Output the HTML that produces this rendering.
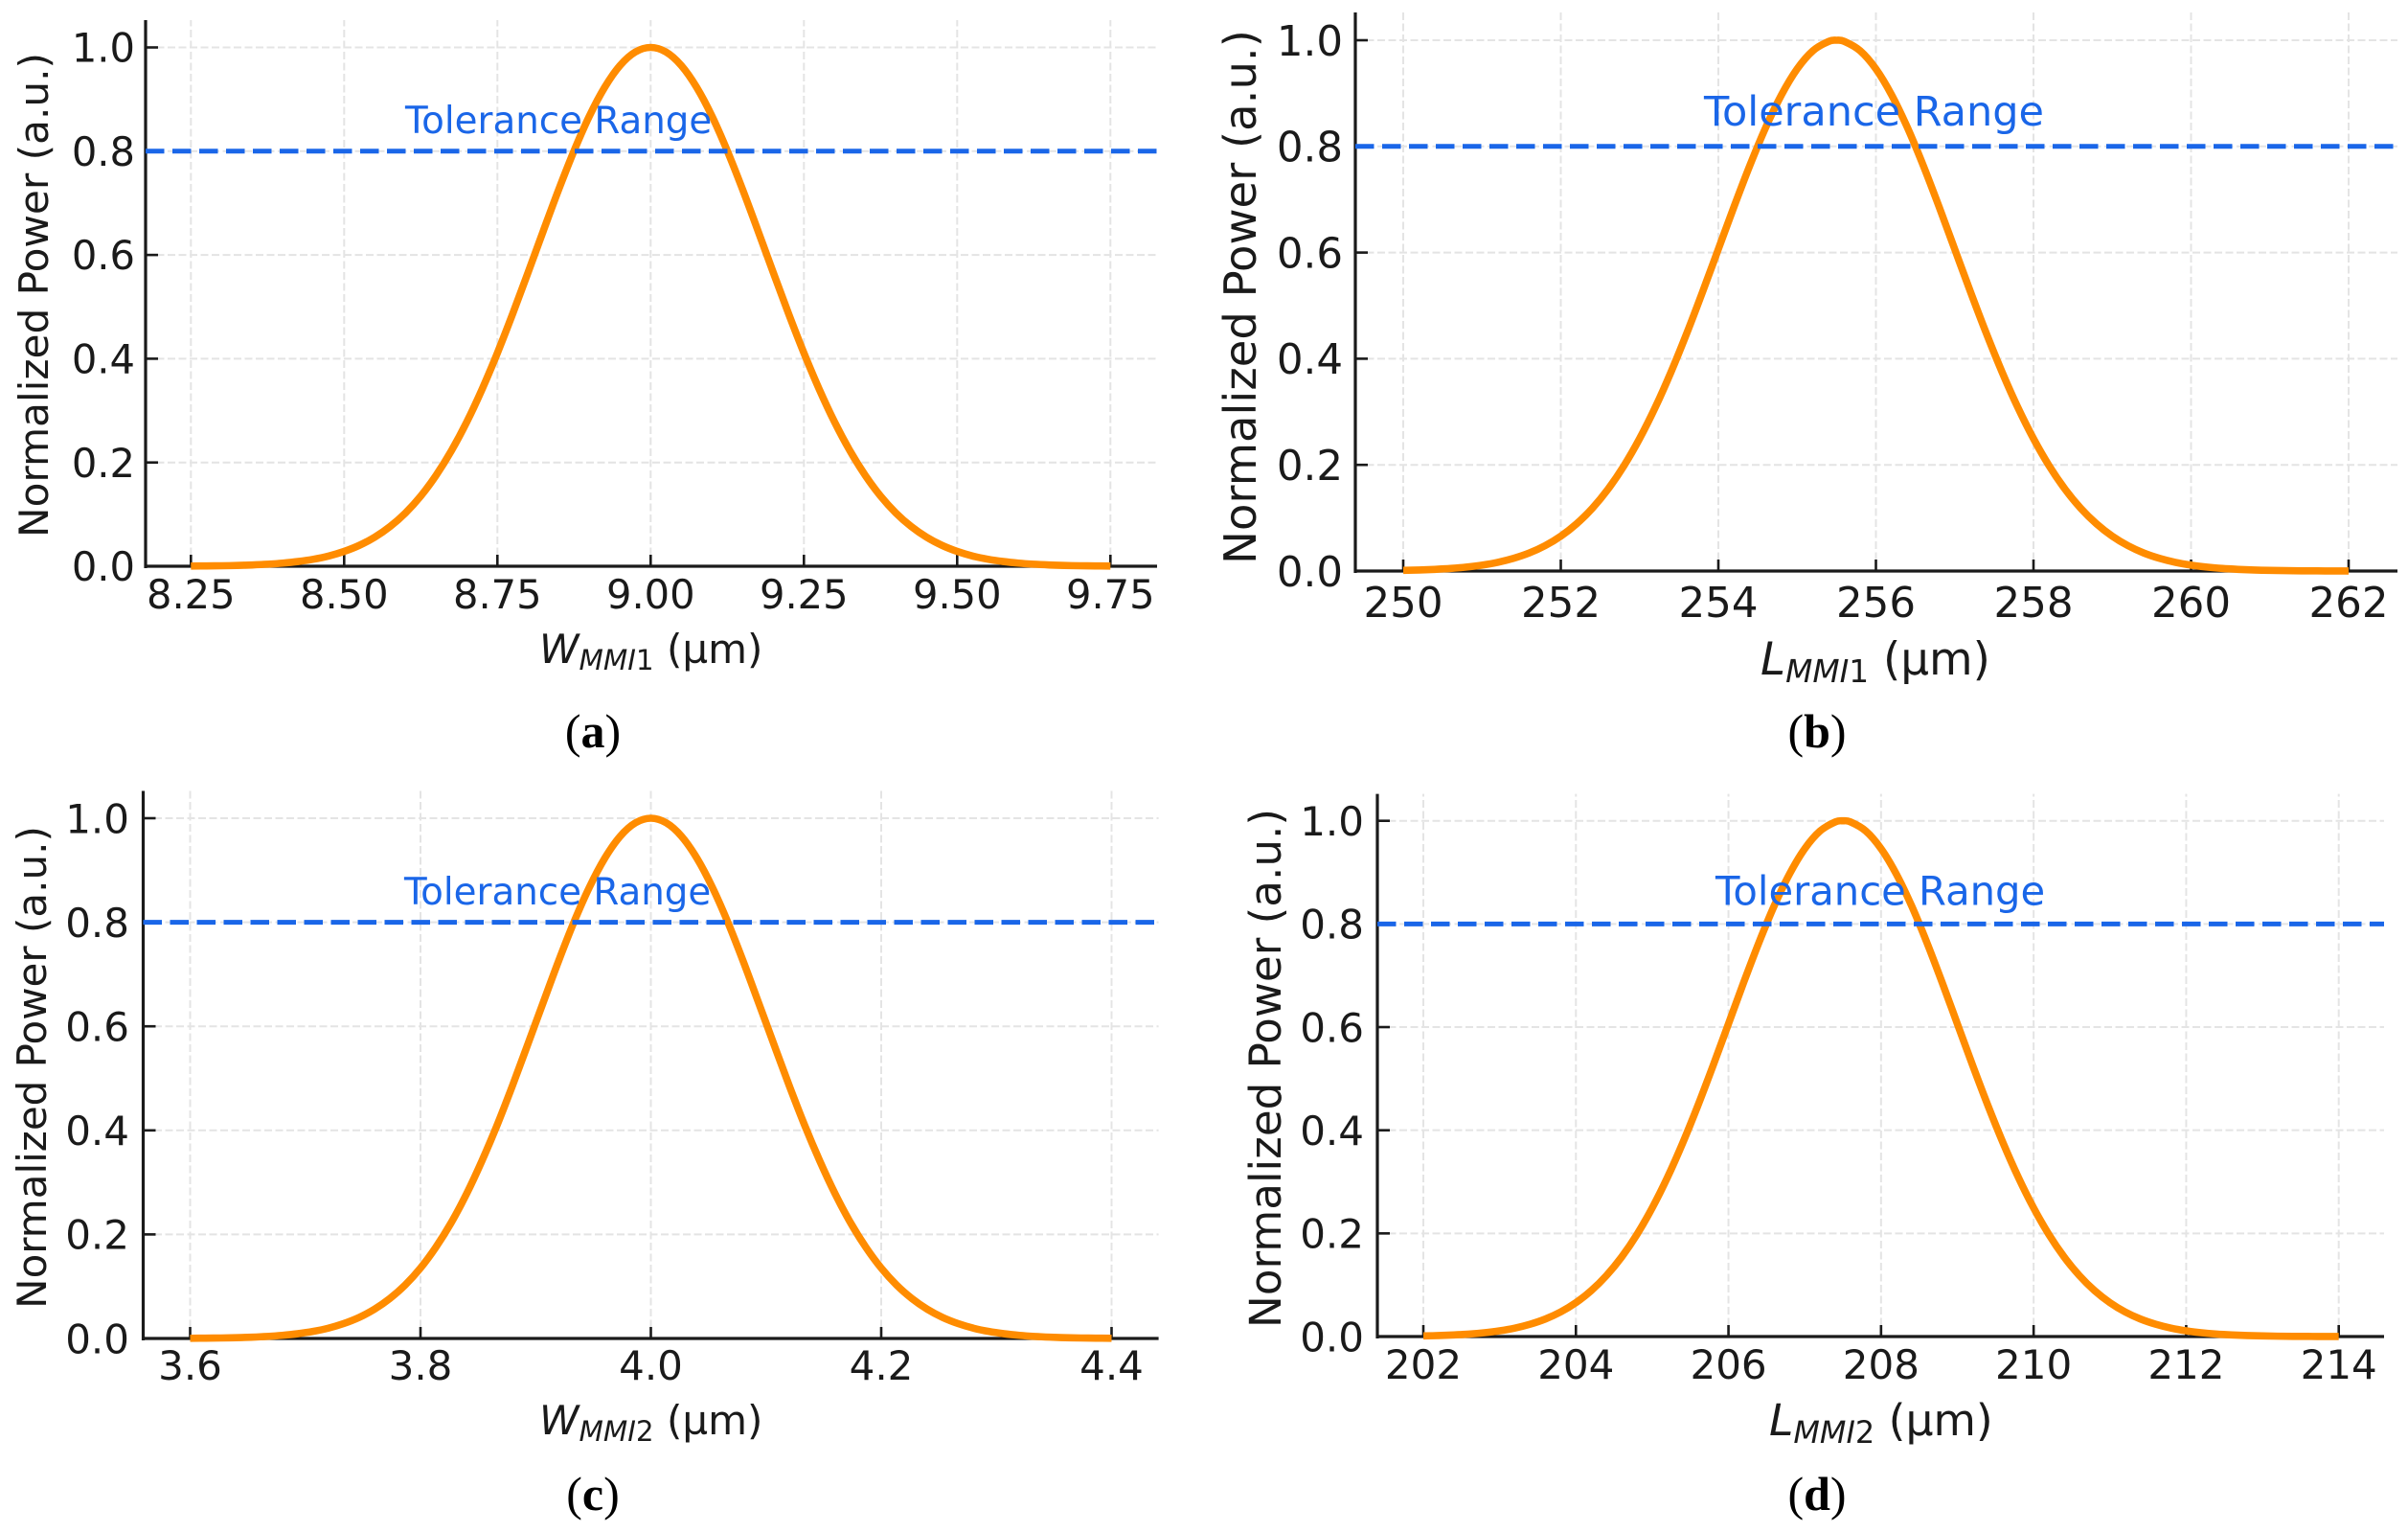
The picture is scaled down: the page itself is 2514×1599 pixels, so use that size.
<!DOCTYPE html>
<html lang="en">
<head>
<meta charset="utf-8">
<title>Normalized Power Tolerance Curves</title>
<style>
html,body{margin:0;padding:0;background:#fff;width:2514px;height:1599px;overflow:hidden}
svg{display:block}
text{font-family:"DejaVu Sans","Liberation Sans",sans-serif;fill:#1a1a1a}
.cap{font-family:"Liberation Serif",serif;fill:#000}
</style>
</head>
<body>
<svg id="figure" xmlns="http://www.w3.org/2000/svg" width="2514" height="1599" viewBox="0 0 2514 1599">
<rect x="0" y="0" width="2514" height="1599" fill="#ffffff"/>
</svg>
<script>
// ---- chart data ----
const yTickLabels = ['0.0','0.2','0.4','0.6','0.8','1.0'];
const toleranceLevel = 0.8;

const xTicksA = ['8.25','8.50','8.75','9.00','9.25','9.50','9.75'];
const xValuesA = [8.25,8.275,8.3,8.325,8.35,8.375,8.4,8.425,8.45,8.475,8.5,8.525,8.55,8.575,8.6,8.625,8.65,8.675,8.7,8.725,8.75,8.775,8.8,8.825,8.85,8.875,8.9,8.925,8.95,8.975,9,9.025,9.05,9.075,9.1,9.125,9.15,9.175,9.2,9.225,9.25,9.275,9.3,9.325,9.35,9.375,9.4,9.425,9.45,9.475,9.5,9.525,9.55,9.575,9.6,9.625,9.65,9.675,9.7,9.725,9.75];
const powerA = [.0003,.0006,.0009,.0015,.0025,.0039,.0060,.0091,.0135,.0198,.0286,.0404,.0561,.0766,.1027,.1353,.1752,.2227,.2780,.3411,.4111,.4868,.5662,.6468,.7261,.8007,.8676,.9231,.9651,.9912,1,.9912,.9651,.9231,.8676,.8007,.7261,.6468,.5662,.4868,.4111,.3411,.2780,.2227,.1752,.1353,.1027,.0766,.0561,.0404,.0286,.0198,.0135,.0091,.0060,.0039,.0025,.0015,.0009,.0006,.0003];

const xTicksB = ['250','252','254','256','258','260','262'];
const xValuesB = [250,250.2,250.4,250.6,250.8,251,251.2,251.4,251.6,251.8,252,252.2,252.4,252.6,252.8,253,253.2,253.4,253.6,253.8,254,254.2,254.4,254.6,254.8,255,255.2,255.4,255.5,255.6,255.8,256,256.2,256.4,256.6,256.8,257,257.2,257.4,257.6,257.8,258,258.2,258.4,258.6,258.8,259,259.2,259.4,259.6,259.8,260,260.2,260.4,260.6,260.8,261,261.2,261.4,261.6,261.8,262];
const powerB = [.0012,.0019,.0031,.0048,.0074,.0111,.0164,.0239,.0340,.0477,.0657,.0889,.1182,.1543,.1979,.2494,.3086,.3753,.4483,.5261,.6065,.6869,.7642,.8353,.8968,.9460,.9802,.9978,1,.9978,.9802,.9460,.8968,.8353,.7642,.6869,.6065,.5261,.4483,.3753,.3086,.2494,.1979,.1543,.1182,.0889,.0657,.0477,.0340,.0239,.0164,.0111,.0074,.0048,.0031,.0019,.0012,.0007,.0004,.0003,.0001,.0001];

const xTicksC = ['3.6','3.8','4.0','4.2','4.4'];
const xValuesC = [3.6,3.6133,3.6267,3.64,3.6533,3.6667,3.68,3.6933,3.7067,3.72,3.7333,3.7467,3.76,3.7733,3.7867,3.8,3.8133,3.8267,3.84,3.8533,3.8667,3.88,3.8933,3.9067,3.92,3.9333,3.9467,3.96,3.9733,3.9867,4,4.0133,4.0267,4.04,4.0533,4.0667,4.08,4.0933,4.1067,4.12,4.1333,4.1467,4.16,4.1733,4.1867,4.2,4.2133,4.2267,4.24,4.2533,4.2667,4.28,4.2933,4.3067,4.32,4.3333,4.3467,4.36,4.3733,4.3867,4.4];
const powerC = [.0003,.0006,.0009,.0015,.0025,.0039,.0060,.0091,.0135,.0198,.0286,.0404,.0561,.0766,.1027,.1353,.1752,.2227,.2780,.3411,.4111,.4868,.5662,.6468,.7261,.8007,.8676,.9231,.9651,.9912,1,.9912,.9651,.9231,.8676,.8007,.7261,.6468,.5662,.4868,.4111,.3411,.2780,.2227,.1752,.1353,.1027,.0766,.0561,.0404,.0286,.0198,.0135,.0091,.0060,.0039,.0025,.0015,.0009,.0006,.0003];

const xTicksD = ['202','204','206','208','210','212','214'];
const xValuesD = [202,202.2,202.4,202.6,202.8,203,203.2,203.4,203.6,203.8,204,204.2,204.4,204.6,204.8,205,205.2,205.4,205.6,205.8,206,206.2,206.4,206.6,206.8,207,207.2,207.4,207.5,207.6,207.8,208,208.2,208.4,208.6,208.8,209,209.2,209.4,209.6,209.8,210,210.2,210.4,210.6,210.8,211,211.2,211.4,211.6,211.8,212,212.2,212.4,212.6,212.8,213,213.2,213.4,213.6,213.8,214];
const powerD = [.0012,.0019,.0031,.0048,.0074,.0111,.0164,.0239,.0340,.0477,.0657,.0889,.1182,.1543,.1979,.2494,.3086,.3753,.4483,.5261,.6065,.6869,.7642,.8353,.8968,.9460,.9802,.9978,1,.9978,.9802,.9460,.8968,.8353,.7642,.6869,.6065,.5261,.4483,.3753,.3086,.2494,.1979,.1543,.1182,.0889,.0657,.0477,.0340,.0239,.0164,.0111,.0074,.0048,.0031,.0019,.0012,.0007,.0004,.0003,.0001,.0001];

// ---- rendering ----
const NS = 'http://www.w3.org/2000/svg';
const svg = document.getElementById('figure');
const BLUE = '#1a66e8', ORANGE = '#ff8c00', AXIS = '#1a1a1a', GRID = '#e4e4e4';

function make(parent, tag, attrs, txt) {
  const el = document.createElementNS(NS, tag);
  for (const k in attrs) el.setAttribute(k, attrs[k]);
  if (txt !== undefined) el.textContent = txt;
  parent.appendChild(el);
  return el;
}

// smooth path passing through every data point (Catmull-Rom to cubic Bezier)
function smoothPath(px, py) {
  let d = 'M' + px[0].toFixed(2) + ' ' + py[0].toFixed(2);
  for (let i = 0; i < px.length - 1; i++) {
    const a = Math.max(i - 1, 0), b = Math.min(i + 2, px.length - 1);
    const c1x = px[i] + (px[i + 1] - px[a]) / 6, c1y = py[i] + (py[i + 1] - py[a]) / 6;
    const c2x = px[i + 1] - (px[b] - px[i]) / 6, c2y = py[i + 1] - (py[b] - py[i]) / 6;
    d += 'C' + c1x.toFixed(2) + ' ' + c1y.toFixed(2) + ' ' + c2x.toFixed(2) + ' ' + c2y.toFixed(2) + ' ' + px[i + 1].toFixed(2) + ' ' + py[i + 1].toFixed(2);
  }
  return d;
}

function drawPanel(p) {
  const g = make(svg, 'g', {});
  
  

  const vLo = parseFloat(p.ticks[0]), vHi = parseFloat(p.ticks[p.ticks.length - 1]);
  const xScale = v => p.xLo + (v - vLo) * (p.xHi - p.xLo) / (vHi - vLo);
  const yScale = v => p.y0 + v * (p.y1 - p.y0);

  // grid
  p.ticks.forEach(t => {
    const x = xScale(parseFloat(t));
    const line = make(g, 'line', {x1:x, x2:x, y1:p.y0, y2:p.top, stroke:GRID, 'stroke-width':2, 'stroke-dasharray':'8 3.5'});
    
    
  });
  yTickLabels.forEach(t => {
    const y = yScale(parseFloat(t));
    if (parseFloat(t) === 0) return;
    const line = make(g, 'line', {x1:p.left, x2:p.right, y1:y, y2:y, stroke:GRID, 'stroke-width':2, 'stroke-dasharray':'8 3.5'});
    
    
  });

  // spines
  const ySpine = make(g, 'line', {x1:p.left, x2:p.left, y1:p.y0 + 2, y2:p.top, stroke:AXIS, 'stroke-width':3.2});
  
  
  const xSpine = make(g, 'line', {x1:p.left, x2:p.right, y1:p.y0, y2:p.y0, stroke:AXIS, 'stroke-width':3.2});
  
  

  // x ticks + labels
  p.ticks.forEach(t => {
    const x = xScale(parseFloat(t));
    const tick = make(g, 'line', {x1:x, x2:x, y1:p.y0, y2:p.y0 - 12, stroke:AXIS, 'stroke-width':2.6});
    
    
    const lab = make(g, 'text', {x:x, y:p.xTickBase, 'text-anchor':'middle', 'font-size':p.tickFs}, t);
    
    
  });

  // y ticks + labels
  yTickLabels.forEach(t => {
    const y = yScale(parseFloat(t));
    const tick = make(g, 'line', {x1:p.left, x2:p.left + 13, y1:y, y2:y, stroke:AXIS, 'stroke-width':2.6});
    
    
    const lab = make(g, 'text', {x:p.yTickRight, y:y + p.tickFs * 0.364, 'text-anchor':'end', 'font-size':p.tickFs}, t);
    
    
  });

  // curve
  const curve = make(g, 'path', {d:smoothPath(p.xs.map(xScale), p.ys.map(yScale)), fill:'none', stroke:ORANGE, 'stroke-width':7.6, 'stroke-linejoin':'round', 'stroke-linecap':'butt'});
  
  

  // tolerance line
  const ty = yScale(toleranceLevel);
  const tol = make(g, 'line', {x1:p.left, x2:p.right, y1:ty, y2:ty, stroke:BLUE, 'stroke-width':5, 'stroke-dasharray':'19.5 8.5'});
  
  
  const tolLab = make(g, 'text', {x:p.tolX, y:p.tolBase, 'font-size':p.tolFs, style:'fill:' + BLUE}, 'Tolerance Range');
  
  

  // y title
  const yTitle = make(g, 'text', {transform:'translate(' + p.yTitleX + ',' + p.yTitleY + ') rotate(-90)', 'text-anchor':'middle', 'font-size':p.yTitleFs}, 'Normalized Power (a.u.)');
  
  

  // x title
  const xTitle = make(g, 'text', {x:p.xTitleX, y:p.xTitleBase, 'font-size':p.xTitleFs});
  
  
  const sub = p.xTitleFs * 0.7, drop = p.xTitleFs * 0.17;
  make(xTitle, 'tspan', {'font-style':'italic'}, p.sym);
  make(xTitle, 'tspan', {'font-style':'italic', 'font-size':sub, dy:drop}, 'MMI');
  make(xTitle, 'tspan', {'font-size':sub}, p.num);
  make(xTitle, 'tspan', {dy:-drop}, '\u00a0(\u00b5m)');

  // caption
  const cap = make(g, 'text', {x:p.capX, y:p.capBase, 'text-anchor':'middle', 'font-size':50, class:'cap'});
  
  
  make(cap, 'tspan', {}, '(');
  make(cap, 'tspan', {'font-weight':'bold'}, p.id);
  make(cap, 'tspan', {}, ')');
}

drawPanel({id:'a', ticks:xTicksA, xs:xValuesA, ys:powerA, sym:'W', num:'1',
  left:152, right:1208, top:21, y0:591, y1:49.5, xLo:199.3, xHi:1159.3,
  tickFs:41.6, xTickBase:635, yTickRight:141, tolFs:38.8, tolX:423, tolBase:139,
  yTitleFs:42.2, yTitleX:50, yTitleY:308, xTitleFs:42, xTitleX:563, xTitleBase:692, capX:619, capBase:780});
drawPanel({id:'b', ticks:xTicksB, xs:xValuesB, ys:powerB, sym:'L', num:'1',
  left:1415, right:2503, top:13, y0:596, y1:42, xLo:1465, xHi:2452,
  tickFs:43.5, xTickBase:644, yTickRight:1402, tolFs:43, tolX:1779, tolBase:131,
  yTitleFs:46.5, yTitleX:1311, yTitleY:310, xTitleFs:46.8, xTitleX:1838, xTitleBase:704, capX:1897, capBase:780});
drawPanel({id:'c', ticks:xTicksC, xs:xValuesC, ys:powerC, sym:'W', num:'2',
  left:149.5, right:1209.6, top:825.5, y0:1397, y1:854, xLo:198.5, xHi:1160.5,
  tickFs:42, xTickBase:1440, yTickRight:135, tolFs:38.8, tolX:422, tolBase:944,
  yTitleFs:42, yTitleX:48, yTitleY:1114, xTitleFs:42, xTitleX:563, xTitleBase:1497, capX:619, capBase:1576});
drawPanel({id:'d', ticks:xTicksD, xs:xValuesD, ys:powerD, sym:'L', num:'2',
  left:1438, right:2489, top:828.6, y0:1395, y1:856.7, xLo:1486, xHi:2441.7,
  tickFs:42, xTickBase:1439, yTickRight:1424, tolFs:41.7, tolX:1791, tolBase:944.5,
  yTitleFs:45.2, yTitleX:1337, yTitleY:1115, xTitleFs:45.6, xTitleX:1847, xTitleBase:1498, capX:1897, capBase:1576});
</script>
</body>
</html>
